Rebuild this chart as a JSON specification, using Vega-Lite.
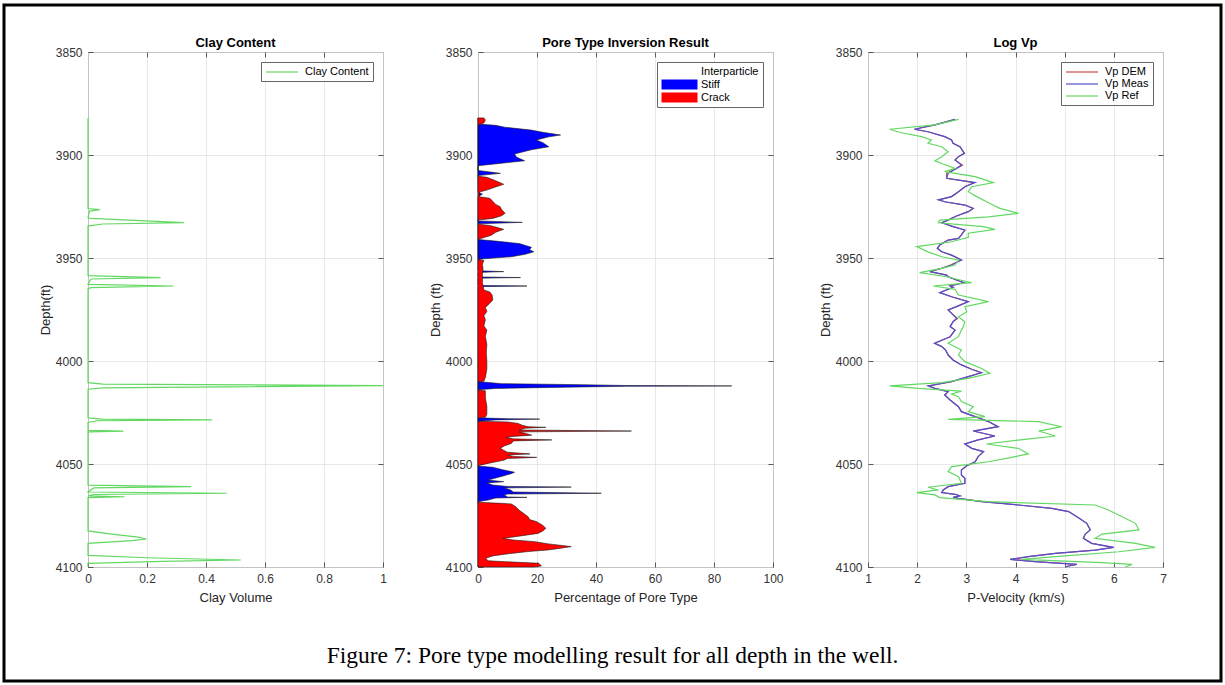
{
  "$schema": "https://vega.github.io/schema/vega-lite/v6.json",
  "background": "white",
  "padding": {"left": 2, "top": 3, "right": 2, "bottom": 2},
  "bounds": "flush",
  "spacing": 0,
  "datasets": {
    "clay": [
      {"d": 3882, "v": 0}, {"d": 3926.0, "v": 0}, {"d": 3926.5, "v": 0.04}, {"d": 3927.2, "v": 0.005}, {"d": 3930.5, "v": 0},
      {"d": 3930.8, "v": 0.01}, {"d": 3932.8, "v": 0.325}, {"d": 3933.5, "v": 0.05}, {"d": 3934.5, "v": 0},
      {"d": 3958.6, "v": 0}, {"d": 3959.5, "v": 0.246}, {"d": 3960.2, "v": 0.01}, {"d": 3962.8, "v": 0}, {"d": 3963.6, "v": 0.29}, {"d": 3964.4, "v": 0.01}, {"d": 3965.0, "v": 0},
      {"d": 4010.5, "v": 0}, {"d": 4011.2, "v": 0.05}, {"d": 4012.0, "v": 1.0}, {"d": 4013.0, "v": 0.05}, {"d": 4013.7, "v": 0},
      {"d": 4027.6, "v": 0}, {"d": 4028.2, "v": 0.05}, {"d": 4028.6, "v": 0.42}, {"d": 4029.0, "v": 0.03}, {"d": 4029.8, "v": 0},
      {"d": 4033.7, "v": 0}, {"d": 4034.0, "v": 0.12}, {"d": 4034.4, "v": 0},
      {"d": 4060.3, "v": 0}, {"d": 4061.0, "v": 0.35}, {"d": 4061.6, "v": 0.02}, {"d": 4063.6, "v": 0}, {"d": 4064.2, "v": 0.47}, {"d": 4064.8, "v": 0.02}, {"d": 4065.5, "v": 0}, {"d": 4065.9, "v": 0.124}, {"d": 4066.3, "v": 0},
      {"d": 4082.5, "v": 0}, {"d": 4084.0, "v": 0.08}, {"d": 4085.5, "v": 0.17}, {"d": 4086.4, "v": 0.198}, {"d": 4087.2, "v": 0.15}, {"d": 4088.5, "v": 0},
      {"d": 4094.4, "v": 0}, {"d": 4095.5, "v": 0.2}, {"d": 4096.6, "v": 0.518}, {"d": 4097.3, "v": 0.25}, {"d": 4098.2, "v": 0}, {"d": 4100, "v": 0}
    ],
    "pore": [
      {"s": "Stiff", "d": 3882, "v": 0}, {"s": "Stiff", "d": 3885.0, "v": 0}, {"s": "Stiff", "d": 3885.6, "v": 6}, {"s": "Stiff", "d": 3886.5, "v": 9},
      {"s": "Stiff", "d": 3887.9, "v": 18}, {"s": "Stiff", "d": 3889.0, "v": 22}, {"s": "Stiff", "d": 3890.3, "v": 28}, {"s": "Stiff", "d": 3891.2, "v": 24},
      {"s": "Stiff", "d": 3892.7, "v": 19.8}, {"s": "Stiff", "d": 3894.0, "v": 22}, {"s": "Stiff", "d": 3896.0, "v": 24}, {"s": "Stiff", "d": 3897.5, "v": 18},
      {"s": "Stiff", "d": 3899.5, "v": 12.4}, {"s": "Stiff", "d": 3901.0, "v": 13}, {"s": "Stiff", "d": 3902.8, "v": 15.8}, {"s": "Stiff", "d": 3904.0, "v": 8},
      {"s": "Stiff", "d": 3905.2, "v": 0}, {"s": "Stiff", "d": 3907.5, "v": 0}, {"s": "Stiff", "d": 3908.9, "v": 7.6}, {"s": "Stiff", "d": 3910.0, "v": 0},
      {"s": "Stiff", "d": 3918.0, "v": 0}, {"s": "Stiff", "d": 3919.0, "v": 1.5}, {"s": "Stiff", "d": 3920.2, "v": 0},
      {"s": "Stiff", "d": 3932.0, "v": 0}, {"s": "Stiff", "d": 3932.7, "v": 15}, {"s": "Stiff", "d": 3933.4, "v": 0},
      {"s": "Stiff", "d": 3941.0, "v": 0}, {"s": "Stiff", "d": 3941.8, "v": 6}, {"s": "Stiff", "d": 3943.0, "v": 14}, {"s": "Stiff", "d": 3944.8, "v": 18.1},
      {"s": "Stiff", "d": 3946.0, "v": 17.5}, {"s": "Stiff", "d": 3947.0, "v": 18.9}, {"s": "Stiff", "d": 3948.2, "v": 16}, {"s": "Stiff", "d": 3949.4, "v": 11.3},
      {"s": "Stiff", "d": 3950.4, "v": 2}, {"s": "Stiff", "d": 3950.8, "v": 0},
      {"s": "Stiff", "d": 3956.2, "v": 0}, {"s": "Stiff", "d": 3956.6, "v": 8.7}, {"s": "Stiff", "d": 3957.0, "v": 0},
      {"s": "Stiff", "d": 3959.2, "v": 0}, {"s": "Stiff", "d": 3959.5, "v": 14.4}, {"s": "Stiff", "d": 3959.8, "v": 0},
      {"s": "Stiff", "d": 3963.3, "v": 0}, {"s": "Stiff", "d": 3963.6, "v": 16.6}, {"s": "Stiff", "d": 3963.9, "v": 0},
      {"s": "Stiff", "d": 4010.0, "v": 0}, {"s": "Stiff", "d": 4011.0, "v": 8}, {"s": "Stiff", "d": 4011.5, "v": 35}, {"s": "Stiff", "d": 4011.9, "v": 50},
      {"s": "Stiff", "d": 4012.1, "v": 86}, {"s": "Stiff", "d": 4012.3, "v": 50}, {"s": "Stiff", "d": 4012.7, "v": 30}, {"s": "Stiff", "d": 4013.3, "v": 6}, {"s": "Stiff", "d": 4014.0, "v": 0},
      {"s": "Stiff", "d": 4027.6, "v": 0}, {"s": "Stiff", "d": 4028.0, "v": 10}, {"s": "Stiff", "d": 4028.2, "v": 20.9}, {"s": "Stiff", "d": 4028.6, "v": 6}, {"s": "Stiff", "d": 4029.3, "v": 0},
      {"s": "Stiff", "d": 4051.0, "v": 0}, {"s": "Stiff", "d": 4051.6, "v": 5}, {"s": "Stiff", "d": 4052.9, "v": 8.7}, {"s": "Stiff", "d": 4054.0, "v": 12.4},
      {"s": "Stiff", "d": 4054.8, "v": 11}, {"s": "Stiff", "d": 4056.2, "v": 7.6}, {"s": "Stiff", "d": 4057.8, "v": 3.4}, {"s": "Stiff", "d": 4058.6, "v": 8.7},
      {"s": "Stiff", "d": 4059.2, "v": 3}, {"s": "Stiff", "d": 4060.2, "v": 5}, {"s": "Stiff", "d": 4060.9, "v": 10}, {"s": "Stiff", "d": 4061.2, "v": 31.6},
      {"s": "Stiff", "d": 4061.6, "v": 9}, {"s": "Stiff", "d": 4062.6, "v": 11}, {"s": "Stiff", "d": 4063.6, "v": 12}, {"s": "Stiff", "d": 4064.2, "v": 41.8},
      {"s": "Stiff", "d": 4064.6, "v": 10}, {"s": "Stiff", "d": 4065.0, "v": 8.9}, {"s": "Stiff", "d": 4066.0, "v": 10}, {"s": "Stiff", "d": 4066.2, "v": 16.6},
      {"s": "Stiff", "d": 4066.5, "v": 6}, {"s": "Stiff", "d": 4067.5, "v": 3.4}, {"s": "Stiff", "d": 4068.3, "v": 0}, {"s": "Stiff", "d": 4100, "v": 0},

      {"s": "Crack", "d": 3882.0, "v": 2}, {"s": "Crack", "d": 3883.0, "v": 2.5}, {"s": "Crack", "d": 3884.5, "v": 2}, {"s": "Crack", "d": 3885.3, "v": 0},
      {"s": "Crack", "d": 3910.3, "v": 0}, {"s": "Crack", "d": 3910.8, "v": 3}, {"s": "Crack", "d": 3912.5, "v": 6}, {"s": "Crack", "d": 3914.2, "v": 8.7},
      {"s": "Crack", "d": 3915.5, "v": 6}, {"s": "Crack", "d": 3917.0, "v": 3}, {"s": "Crack", "d": 3918.0, "v": 0.5}, {"s": "Crack", "d": 3920.3, "v": 0.5},
      {"s": "Crack", "d": 3921.0, "v": 4}, {"s": "Crack", "d": 3922.5, "v": 5}, {"s": "Crack", "d": 3924.0, "v": 6}, {"s": "Crack", "d": 3925.1, "v": 7.5},
      {"s": "Crack", "d": 3926.5, "v": 8}, {"s": "Crack", "d": 3928.3, "v": 9.2}, {"s": "Crack", "d": 3929.5, "v": 8}, {"s": "Crack", "d": 3930.8, "v": 5},
      {"s": "Crack", "d": 3931.6, "v": 0}, {"s": "Crack", "d": 3933.6, "v": 0}, {"s": "Crack", "d": 3934.2, "v": 4}, {"s": "Crack", "d": 3935.0, "v": 6},
      {"s": "Crack", "d": 3936.1, "v": 8.7}, {"s": "Crack", "d": 3937.5, "v": 6}, {"s": "Crack", "d": 3939.0, "v": 4.5}, {"s": "Crack", "d": 3940.5, "v": 1},
      {"s": "Crack", "d": 3941.0, "v": 0}, {"s": "Crack", "d": 3950.8, "v": 0}, {"s": "Crack", "d": 3951.2, "v": 2}, {"s": "Crack", "d": 3953.0, "v": 1.5},
      {"s": "Crack", "d": 3955.0, "v": 1.7}, {"s": "Crack", "d": 3958.0, "v": 1.5}, {"s": "Crack", "d": 3962.0, "v": 1.5}, {"s": "Crack", "d": 3965.5, "v": 2},
      {"s": "Crack", "d": 3966.5, "v": 4}, {"s": "Crack", "d": 3968.0, "v": 4.8}, {"s": "Crack", "d": 3970.4, "v": 5}, {"s": "Crack", "d": 3972.0, "v": 4},
      {"s": "Crack", "d": 3974.0, "v": 2.5}, {"s": "Crack", "d": 3976.0, "v": 3}, {"s": "Crack", "d": 3978.0, "v": 2}, {"s": "Crack", "d": 3980.0, "v": 2.5},
      {"s": "Crack", "d": 3983.0, "v": 2}, {"s": "Crack", "d": 3985.0, "v": 3}, {"s": "Crack", "d": 3988.0, "v": 2.5}, {"s": "Crack", "d": 3992.0, "v": 3},
      {"s": "Crack", "d": 3996.0, "v": 2.8}, {"s": "Crack", "d": 4000.0, "v": 3}, {"s": "Crack", "d": 4004.0, "v": 3}, {"s": "Crack", "d": 4008.0, "v": 2.5},
      {"s": "Crack", "d": 4009.8, "v": 2}, {"s": "Crack", "d": 4010.0, "v": 0}, {"s": "Crack", "d": 4014.1, "v": 0}, {"s": "Crack", "d": 4014.5, "v": 2.5},
      {"s": "Crack", "d": 4018.0, "v": 2.5}, {"s": "Crack", "d": 4022.0, "v": 3}, {"s": "Crack", "d": 4026.0, "v": 3}, {"s": "Crack", "d": 4027.3, "v": 2.5},
      {"s": "Crack", "d": 4027.6, "v": 0}, {"s": "Crack", "d": 4029.3, "v": 0}, {"s": "Crack", "d": 4029.6, "v": 10}, {"s": "Crack", "d": 4030.3, "v": 13.6},
      {"s": "Crack", "d": 4031.2, "v": 15}, {"s": "Crack", "d": 4031.9, "v": 17}, {"s": "Crack", "d": 4032.2, "v": 23}, {"s": "Crack", "d": 4032.6, "v": 16},
      {"s": "Crack", "d": 4033.5, "v": 14}, {"s": "Crack", "d": 4034.0, "v": 52}, {"s": "Crack", "d": 4034.4, "v": 14}, {"s": "Crack", "d": 4035.1, "v": 16},
      {"s": "Crack", "d": 4036.0, "v": 18.2}, {"s": "Crack", "d": 4036.6, "v": 12}, {"s": "Crack", "d": 4037.1, "v": 9.5}, {"s": "Crack", "d": 4037.8, "v": 12},
      {"s": "Crack", "d": 4038.3, "v": 25}, {"s": "Crack", "d": 4038.8, "v": 12}, {"s": "Crack", "d": 4040.0, "v": 11.3}, {"s": "Crack", "d": 4041.2, "v": 9},
      {"s": "Crack", "d": 4042.4, "v": 7.6}, {"s": "Crack", "d": 4043.2, "v": 8.5}, {"s": "Crack", "d": 4044.3, "v": 10}, {"s": "Crack", "d": 4045.1, "v": 17.6},
      {"s": "Crack", "d": 4045.6, "v": 10}, {"s": "Crack", "d": 4046.3, "v": 12}, {"s": "Crack", "d": 4046.8, "v": 19.9}, {"s": "Crack", "d": 4047.3, "v": 10},
      {"s": "Crack", "d": 4048.1, "v": 8.9}, {"s": "Crack", "d": 4049.7, "v": 3.4}, {"s": "Crack", "d": 4050.8, "v": 0}, {"s": "Crack", "d": 4068.6, "v": 0},
      {"s": "Crack", "d": 4069.1, "v": 8}, {"s": "Crack", "d": 4069.4, "v": 11.3}, {"s": "Crack", "d": 4070.7, "v": 12.8}, {"s": "Crack", "d": 4072.5, "v": 14},
      {"s": "Crack", "d": 4074.0, "v": 15.5}, {"s": "Crack", "d": 4075.6, "v": 17}, {"s": "Crack", "d": 4077.0, "v": 17.5}, {"s": "Crack", "d": 4078.0, "v": 19.9},
      {"s": "Crack", "d": 4079.8, "v": 22}, {"s": "Crack", "d": 4081.2, "v": 23}, {"s": "Crack", "d": 4082.5, "v": 22}, {"s": "Crack", "d": 4083.7, "v": 20.3},
      {"s": "Crack", "d": 4084.8, "v": 15}, {"s": "Crack", "d": 4086.1, "v": 8.5}, {"s": "Crack", "d": 4086.9, "v": 12}, {"s": "Crack", "d": 4087.7, "v": 19.2},
      {"s": "Crack", "d": 4088.8, "v": 24}, {"s": "Crack", "d": 4090.1, "v": 31.6}, {"s": "Crack", "d": 4090.9, "v": 28}, {"s": "Crack", "d": 4091.7, "v": 23.8},
      {"s": "Crack", "d": 4092.5, "v": 17}, {"s": "Crack", "d": 4093.4, "v": 11.3}, {"s": "Crack", "d": 4094.6, "v": 5}, {"s": "Crack", "d": 4095.8, "v": 2.6},
      {"s": "Crack", "d": 4097.0, "v": 3.4}, {"s": "Crack", "d": 4097.6, "v": 12}, {"s": "Crack", "d": 4098.2, "v": 20.6}, {"s": "Crack", "d": 4099.5, "v": 21.5},
      {"s": "Crack", "d": 4100.0, "v": 19}
    ],
    "vp": [
      {"s": "Vp DEM", "d": 3882.7, "v": 2.77}, {"s": "Vp DEM", "d": 3885.4, "v": 2.36}, {"s": "Vp DEM", "d": 3887.5, "v": 1.95}, {"s": "Vp DEM", "d": 3888.7, "v": 2.22},
      {"s": "Vp DEM", "d": 3891.1, "v": 2.56}, {"s": "Vp DEM", "d": 3892.7, "v": 2.70}, {"s": "Vp DEM", "d": 3894.3, "v": 2.73}, {"s": "Vp DEM", "d": 3896.0, "v": 2.87},
      {"s": "Vp DEM", "d": 3899.2, "v": 2.96}, {"s": "Vp DEM", "d": 3900.8, "v": 2.84}, {"s": "Vp DEM", "d": 3902.4, "v": 2.77}, {"s": "Vp DEM", "d": 3904.9, "v": 2.92},
      {"s": "Vp DEM", "d": 3906.5, "v": 2.80}, {"s": "Vp DEM", "d": 3908.9, "v": 2.60}, {"s": "Vp DEM", "d": 3911.3, "v": 2.60}, {"s": "Vp DEM", "d": 3913.4, "v": 3.16},
      {"s": "Vp DEM", "d": 3915.4, "v": 2.97}, {"s": "Vp DEM", "d": 3917.8, "v": 2.84}, {"s": "Vp DEM", "d": 3920.2, "v": 2.70}, {"s": "Vp DEM", "d": 3921.8, "v": 2.44},
      {"s": "Vp DEM", "d": 3922.7, "v": 2.56}, {"s": "Vp DEM", "d": 3924.3, "v": 2.97}, {"s": "Vp DEM", "d": 3925.9, "v": 3.14}, {"s": "Vp DEM", "d": 3927.5, "v": 3.04},
      {"s": "Vp DEM", "d": 3929.6, "v": 2.80}, {"s": "Vp DEM", "d": 3931.6, "v": 2.63}, {"s": "Vp DEM", "d": 3932.9, "v": 2.50}, {"s": "Vp DEM", "d": 3934.8, "v": 2.73},
      {"s": "Vp DEM", "d": 3936.4, "v": 2.97}, {"s": "Vp DEM", "d": 3938.8, "v": 2.90}, {"s": "Vp DEM", "d": 3940.5, "v": 2.84}, {"s": "Vp DEM", "d": 3941.3, "v": 2.63},
      {"s": "Vp DEM", "d": 3943.7, "v": 2.46}, {"s": "Vp DEM", "d": 3945.3, "v": 2.41}, {"s": "Vp DEM", "d": 3947.0, "v": 2.50}, {"s": "Vp DEM", "d": 3948.6, "v": 2.70},
      {"s": "Vp DEM", "d": 3951.0, "v": 2.90}, {"s": "Vp DEM", "d": 3953.4, "v": 2.68}, {"s": "Vp DEM", "d": 3955.0, "v": 2.50}, {"s": "Vp DEM", "d": 3956.6, "v": 2.26},
      {"s": "Vp DEM", "d": 3958.3, "v": 2.60}, {"s": "Vp DEM", "d": 3959.1, "v": 2.63}, {"s": "Vp DEM", "d": 3960.7, "v": 2.80}, {"s": "Vp DEM", "d": 3962.0, "v": 2.94},
      {"s": "Vp DEM", "d": 3963.6, "v": 2.67}, {"s": "Vp DEM", "d": 3964.2, "v": 2.73}, {"s": "Vp DEM", "d": 3966.8, "v": 2.46}, {"s": "Vp DEM", "d": 3968.8, "v": 2.70},
      {"s": "Vp DEM", "d": 3971.2, "v": 3.04}, {"s": "Vp DEM", "d": 3973.6, "v": 2.80}, {"s": "Vp DEM", "d": 3975.2, "v": 2.63}, {"s": "Vp DEM", "d": 3976.9, "v": 2.70},
      {"s": "Vp DEM", "d": 3979.3, "v": 2.82}, {"s": "Vp DEM", "d": 3980.9, "v": 2.73}, {"s": "Vp DEM", "d": 3983.3, "v": 2.67}, {"s": "Vp DEM", "d": 3985.0, "v": 2.77},
      {"s": "Vp DEM", "d": 3988.2, "v": 2.67}, {"s": "Vp DEM", "d": 3991.4, "v": 2.36}, {"s": "Vp DEM", "d": 3993.0, "v": 2.50}, {"s": "Vp DEM", "d": 3994.7, "v": 2.58},
      {"s": "Vp DEM", "d": 3997.1, "v": 2.63}, {"s": "Vp DEM", "d": 3999.5, "v": 2.73}, {"s": "Vp DEM", "d": 4001.9, "v": 2.90}, {"s": "Vp DEM", "d": 4004.0, "v": 3.11},
      {"s": "Vp DEM", "d": 4005.7, "v": 3.30}, {"s": "Vp DEM", "d": 4007.6, "v": 3.04}, {"s": "Vp DEM", "d": 4010.0, "v": 2.70}, {"s": "Vp DEM", "d": 4012.1, "v": 2.24},
      {"s": "Vp DEM", "d": 4013.3, "v": 2.36}, {"s": "Vp DEM", "d": 4014.9, "v": 2.63}, {"s": "Vp DEM", "d": 4016.5, "v": 2.56}, {"s": "Vp DEM", "d": 4018.9, "v": 2.67},
      {"s": "Vp DEM", "d": 4022.2, "v": 2.84}, {"s": "Vp DEM", "d": 4024.6, "v": 2.90}, {"s": "Vp DEM", "d": 4027.0, "v": 3.18}, {"s": "Vp DEM", "d": 4029.4, "v": 3.45},
      {"s": "Vp DEM", "d": 4031.9, "v": 3.64}, {"s": "Vp DEM", "d": 4034.0, "v": 3.14}, {"s": "Vp DEM", "d": 4036.4, "v": 3.58}, {"s": "Vp DEM", "d": 4038.3, "v": 3.24},
      {"s": "Vp DEM", "d": 4040.3, "v": 2.97}, {"s": "Vp DEM", "d": 4042.4, "v": 3.11}, {"s": "Vp DEM", "d": 4044.0, "v": 3.35}, {"s": "Vp DEM", "d": 4046.4, "v": 3.24},
      {"s": "Vp DEM", "d": 4048.9, "v": 3.18}, {"s": "Vp DEM", "d": 4051.0, "v": 3.00}, {"s": "Vp DEM", "d": 4052.9, "v": 2.90}, {"s": "Vp DEM", "d": 4055.3, "v": 2.90},
      {"s": "Vp DEM", "d": 4056.9, "v": 2.97}, {"s": "Vp DEM", "d": 4059.4, "v": 2.97}, {"s": "Vp DEM", "d": 4061.0, "v": 2.63}, {"s": "Vp DEM", "d": 4062.6, "v": 2.53},
      {"s": "Vp DEM", "d": 4063.9, "v": 2.50}, {"s": "Vp DEM", "d": 4064.7, "v": 2.77}, {"s": "Vp DEM", "d": 4065.5, "v": 2.87}, {"s": "Vp DEM", "d": 4066.2, "v": 2.73},
      {"s": "Vp DEM", "d": 4066.7, "v": 2.84}, {"s": "Vp DEM", "d": 4068.3, "v": 3.31}, {"s": "Vp DEM", "d": 4069.9, "v": 4.06}, {"s": "Vp DEM", "d": 4071.5, "v": 4.74},
      {"s": "Vp DEM", "d": 4073.1, "v": 5.08}, {"s": "Vp DEM", "d": 4075.6, "v": 5.25}, {"s": "Vp DEM", "d": 4078.8, "v": 5.45}, {"s": "Vp DEM", "d": 4082.0, "v": 5.52},
      {"s": "Vp DEM", "d": 4084.0, "v": 5.42}, {"s": "Vp DEM", "d": 4086.1, "v": 5.38}, {"s": "Vp DEM", "d": 4088.5, "v": 5.55}, {"s": "Vp DEM", "d": 4090.5, "v": 5.98},
      {"s": "Vp DEM", "d": 4091.8, "v": 5.62}, {"s": "Vp DEM", "d": 4093.4, "v": 4.81}, {"s": "Vp DEM", "d": 4095.0, "v": 4.26}, {"s": "Vp DEM", "d": 4096.3, "v": 3.90},
      {"s": "Vp DEM", "d": 4097.4, "v": 4.40}, {"s": "Vp DEM", "d": 4098.7, "v": 5.24}, {"s": "Vp DEM", "d": 4099.5, "v": 5.08}, {"s": "Vp DEM", "d": 4100.0, "v": 5.01},

      {"s": "Vp Meas", "d": 3882.7, "v": 2.77}, {"s": "Vp Meas", "d": 3885.4, "v": 2.36}, {"s": "Vp Meas", "d": 3887.5, "v": 1.94}, {"s": "Vp Meas", "d": 3888.7, "v": 2.22},
      {"s": "Vp Meas", "d": 3891.1, "v": 2.56}, {"s": "Vp Meas", "d": 3892.7, "v": 2.70}, {"s": "Vp Meas", "d": 3894.3, "v": 2.73}, {"s": "Vp Meas", "d": 3896.0, "v": 2.87},
      {"s": "Vp Meas", "d": 3899.2, "v": 2.96}, {"s": "Vp Meas", "d": 3900.8, "v": 2.84}, {"s": "Vp Meas", "d": 3902.4, "v": 2.77}, {"s": "Vp Meas", "d": 3904.9, "v": 2.90},
      {"s": "Vp Meas", "d": 3906.5, "v": 2.80}, {"s": "Vp Meas", "d": 3908.9, "v": 2.63}, {"s": "Vp Meas", "d": 3911.3, "v": 2.60}, {"s": "Vp Meas", "d": 3913.4, "v": 3.18},
      {"s": "Vp Meas", "d": 3915.4, "v": 2.97}, {"s": "Vp Meas", "d": 3917.8, "v": 2.84}, {"s": "Vp Meas", "d": 3920.2, "v": 2.70}, {"s": "Vp Meas", "d": 3921.8, "v": 2.43},
      {"s": "Vp Meas", "d": 3922.7, "v": 2.56}, {"s": "Vp Meas", "d": 3924.3, "v": 2.97}, {"s": "Vp Meas", "d": 3925.9, "v": 3.14}, {"s": "Vp Meas", "d": 3927.5, "v": 3.04},
      {"s": "Vp Meas", "d": 3929.6, "v": 2.80}, {"s": "Vp Meas", "d": 3931.6, "v": 2.63}, {"s": "Vp Meas", "d": 3932.9, "v": 2.50}, {"s": "Vp Meas", "d": 3934.8, "v": 2.73},
      {"s": "Vp Meas", "d": 3936.4, "v": 2.97}, {"s": "Vp Meas", "d": 3938.8, "v": 2.90}, {"s": "Vp Meas", "d": 3940.5, "v": 2.84}, {"s": "Vp Meas", "d": 3941.3, "v": 2.63},
      {"s": "Vp Meas", "d": 3943.7, "v": 2.46}, {"s": "Vp Meas", "d": 3945.3, "v": 2.41}, {"s": "Vp Meas", "d": 3947.0, "v": 2.50}, {"s": "Vp Meas", "d": 3948.6, "v": 2.70},
      {"s": "Vp Meas", "d": 3951.0, "v": 2.90}, {"s": "Vp Meas", "d": 3953.4, "v": 2.70}, {"s": "Vp Meas", "d": 3955.0, "v": 2.50}, {"s": "Vp Meas", "d": 3956.6, "v": 2.26},
      {"s": "Vp Meas", "d": 3958.3, "v": 2.60}, {"s": "Vp Meas", "d": 3959.1, "v": 2.63}, {"s": "Vp Meas", "d": 3960.7, "v": 2.80}, {"s": "Vp Meas", "d": 3962.0, "v": 2.96},
      {"s": "Vp Meas", "d": 3963.6, "v": 2.67}, {"s": "Vp Meas", "d": 3964.2, "v": 2.73}, {"s": "Vp Meas", "d": 3966.8, "v": 2.46}, {"s": "Vp Meas", "d": 3968.8, "v": 2.70},
      {"s": "Vp Meas", "d": 3971.2, "v": 3.04}, {"s": "Vp Meas", "d": 3973.6, "v": 2.80}, {"s": "Vp Meas", "d": 3975.2, "v": 2.63}, {"s": "Vp Meas", "d": 3976.9, "v": 2.70},
      {"s": "Vp Meas", "d": 3979.3, "v": 2.80}, {"s": "Vp Meas", "d": 3980.9, "v": 2.73}, {"s": "Vp Meas", "d": 3983.3, "v": 2.67}, {"s": "Vp Meas", "d": 3985.0, "v": 2.77},
      {"s": "Vp Meas", "d": 3988.2, "v": 2.67}, {"s": "Vp Meas", "d": 3991.4, "v": 2.35}, {"s": "Vp Meas", "d": 3993.0, "v": 2.50}, {"s": "Vp Meas", "d": 3994.7, "v": 2.58},
      {"s": "Vp Meas", "d": 3997.1, "v": 2.63}, {"s": "Vp Meas", "d": 3999.5, "v": 2.73}, {"s": "Vp Meas", "d": 4001.9, "v": 2.90}, {"s": "Vp Meas", "d": 4004.0, "v": 3.11},
      {"s": "Vp Meas", "d": 4005.7, "v": 3.31}, {"s": "Vp Meas", "d": 4007.6, "v": 3.04}, {"s": "Vp Meas", "d": 4010.0, "v": 2.70}, {"s": "Vp Meas", "d": 4012.1, "v": 2.22},
      {"s": "Vp Meas", "d": 4013.3, "v": 2.36}, {"s": "Vp Meas", "d": 4014.9, "v": 2.63}, {"s": "Vp Meas", "d": 4016.5, "v": 2.56}, {"s": "Vp Meas", "d": 4018.9, "v": 2.67},
      {"s": "Vp Meas", "d": 4022.2, "v": 2.84}, {"s": "Vp Meas", "d": 4024.6, "v": 2.90}, {"s": "Vp Meas", "d": 4027.0, "v": 3.18}, {"s": "Vp Meas", "d": 4029.4, "v": 3.45},
      {"s": "Vp Meas", "d": 4031.9, "v": 3.65}, {"s": "Vp Meas", "d": 4034.0, "v": 3.14}, {"s": "Vp Meas", "d": 4036.4, "v": 3.58}, {"s": "Vp Meas", "d": 4038.3, "v": 3.24},
      {"s": "Vp Meas", "d": 4040.3, "v": 2.97}, {"s": "Vp Meas", "d": 4042.4, "v": 3.11}, {"s": "Vp Meas", "d": 4044.0, "v": 3.35}, {"s": "Vp Meas", "d": 4046.4, "v": 3.24},
      {"s": "Vp Meas", "d": 4048.9, "v": 3.18}, {"s": "Vp Meas", "d": 4051.0, "v": 3.00}, {"s": "Vp Meas", "d": 4052.9, "v": 2.90}, {"s": "Vp Meas", "d": 4055.3, "v": 2.90},
      {"s": "Vp Meas", "d": 4056.9, "v": 2.97}, {"s": "Vp Meas", "d": 4059.4, "v": 2.97}, {"s": "Vp Meas", "d": 4061.0, "v": 2.63}, {"s": "Vp Meas", "d": 4062.6, "v": 2.53},
      {"s": "Vp Meas", "d": 4063.9, "v": 2.50}, {"s": "Vp Meas", "d": 4064.7, "v": 2.77}, {"s": "Vp Meas", "d": 4065.5, "v": 2.87}, {"s": "Vp Meas", "d": 4066.2, "v": 2.73},
      {"s": "Vp Meas", "d": 4066.7, "v": 2.84}, {"s": "Vp Meas", "d": 4068.3, "v": 3.31}, {"s": "Vp Meas", "d": 4069.9, "v": 4.06}, {"s": "Vp Meas", "d": 4071.5, "v": 4.74},
      {"s": "Vp Meas", "d": 4073.1, "v": 5.08}, {"s": "Vp Meas", "d": 4075.6, "v": 5.25}, {"s": "Vp Meas", "d": 4078.8, "v": 5.45}, {"s": "Vp Meas", "d": 4082.0, "v": 5.52},
      {"s": "Vp Meas", "d": 4084.0, "v": 5.42}, {"s": "Vp Meas", "d": 4086.1, "v": 5.38}, {"s": "Vp Meas", "d": 4088.5, "v": 5.55}, {"s": "Vp Meas", "d": 4090.5, "v": 6.00},
      {"s": "Vp Meas", "d": 4091.8, "v": 5.62}, {"s": "Vp Meas", "d": 4093.4, "v": 4.81}, {"s": "Vp Meas", "d": 4095.0, "v": 4.26}, {"s": "Vp Meas", "d": 4096.3, "v": 3.89},
      {"s": "Vp Meas", "d": 4097.4, "v": 4.40}, {"s": "Vp Meas", "d": 4098.7, "v": 5.25}, {"s": "Vp Meas", "d": 4099.5, "v": 5.08}, {"s": "Vp Meas", "d": 4100.0, "v": 5.01},

      {"s": "Vp Ref", "d": 3882.7, "v": 2.84}, {"s": "Vp Ref", "d": 3885.4, "v": 2.36}, {"s": "Vp Ref", "d": 3887.5, "v": 1.44}, {"s": "Vp Ref", "d": 3889.2, "v": 1.68},
      {"s": "Vp Ref", "d": 3891.1, "v": 2.09}, {"s": "Vp Ref", "d": 3892.7, "v": 2.29}, {"s": "Vp Ref", "d": 3894.3, "v": 2.22}, {"s": "Vp Ref", "d": 3896.0, "v": 2.50},
      {"s": "Vp Ref", "d": 3898.4, "v": 2.63}, {"s": "Vp Ref", "d": 3900.8, "v": 2.50}, {"s": "Vp Ref", "d": 3902.8, "v": 2.36}, {"s": "Vp Ref", "d": 3904.4, "v": 2.53},
      {"s": "Vp Ref", "d": 3906.5, "v": 2.77}, {"s": "Vp Ref", "d": 3908.1, "v": 2.56}, {"s": "Vp Ref", "d": 3910.5, "v": 3.18}, {"s": "Vp Ref", "d": 3913.4, "v": 3.55},
      {"s": "Vp Ref", "d": 3915.4, "v": 3.11}, {"s": "Vp Ref", "d": 3917.8, "v": 3.04}, {"s": "Vp Ref", "d": 3920.2, "v": 3.21}, {"s": "Vp Ref", "d": 3923.5, "v": 3.48},
      {"s": "Vp Ref", "d": 3925.9, "v": 3.68}, {"s": "Vp Ref", "d": 3928.3, "v": 4.06}, {"s": "Vp Ref", "d": 3930.0, "v": 3.45}, {"s": "Vp Ref", "d": 3931.6, "v": 2.46},
      {"s": "Vp Ref", "d": 3932.9, "v": 2.43}, {"s": "Vp Ref", "d": 3934.8, "v": 3.35}, {"s": "Vp Ref", "d": 3936.1, "v": 3.58}, {"s": "Vp Ref", "d": 3938.0, "v": 3.04},
      {"s": "Vp Ref", "d": 3940.0, "v": 3.04}, {"s": "Vp Ref", "d": 3942.1, "v": 2.70}, {"s": "Vp Ref", "d": 3944.5, "v": 1.99}, {"s": "Vp Ref", "d": 3947.0, "v": 2.22},
      {"s": "Vp Ref", "d": 3949.4, "v": 2.50}, {"s": "Vp Ref", "d": 3951.0, "v": 2.84}, {"s": "Vp Ref", "d": 3953.4, "v": 2.77}, {"s": "Vp Ref", "d": 3955.0, "v": 2.50},
      {"s": "Vp Ref", "d": 3957.1, "v": 2.05}, {"s": "Vp Ref", "d": 3959.1, "v": 2.60}, {"s": "Vp Ref", "d": 3962.0, "v": 3.11}, {"s": "Vp Ref", "d": 3963.6, "v": 2.33},
      {"s": "Vp Ref", "d": 3965.2, "v": 2.77}, {"s": "Vp Ref", "d": 3968.0, "v": 2.84}, {"s": "Vp Ref", "d": 3971.2, "v": 3.45}, {"s": "Vp Ref", "d": 3973.6, "v": 2.97},
      {"s": "Vp Ref", "d": 3976.1, "v": 3.01}, {"s": "Vp Ref", "d": 3978.5, "v": 2.84}, {"s": "Vp Ref", "d": 3980.9, "v": 2.97}, {"s": "Vp Ref", "d": 3983.3, "v": 2.94},
      {"s": "Vp Ref", "d": 3985.0, "v": 2.90}, {"s": "Vp Ref", "d": 3988.2, "v": 2.84}, {"s": "Vp Ref", "d": 3991.4, "v": 2.63}, {"s": "Vp Ref", "d": 3994.7, "v": 2.90},
      {"s": "Vp Ref", "d": 3997.1, "v": 2.84}, {"s": "Vp Ref", "d": 4000.3, "v": 2.97}, {"s": "Vp Ref", "d": 4003.6, "v": 3.31}, {"s": "Vp Ref", "d": 4006.0, "v": 3.48},
      {"s": "Vp Ref", "d": 4008.4, "v": 3.04}, {"s": "Vp Ref", "d": 4010.5, "v": 2.50}, {"s": "Vp Ref", "d": 4012.1, "v": 1.44}, {"s": "Vp Ref", "d": 4013.3, "v": 2.02},
      {"s": "Vp Ref", "d": 4014.6, "v": 2.90}, {"s": "Vp Ref", "d": 4016.0, "v": 2.70}, {"s": "Vp Ref", "d": 4017.3, "v": 2.84}, {"s": "Vp Ref", "d": 4019.7, "v": 2.90},
      {"s": "Vp Ref", "d": 4022.2, "v": 3.14}, {"s": "Vp Ref", "d": 4024.6, "v": 3.04}, {"s": "Vp Ref", "d": 4027.0, "v": 3.38}, {"s": "Vp Ref", "d": 4028.3, "v": 2.63},
      {"s": "Vp Ref", "d": 4029.4, "v": 4.47}, {"s": "Vp Ref", "d": 4031.9, "v": 4.94}, {"s": "Vp Ref", "d": 4034.0, "v": 4.47}, {"s": "Vp Ref", "d": 4036.4, "v": 4.81},
      {"s": "Vp Ref", "d": 4038.0, "v": 4.19}, {"s": "Vp Ref", "d": 4040.3, "v": 3.41}, {"s": "Vp Ref", "d": 4042.4, "v": 4.06}, {"s": "Vp Ref", "d": 4045.1, "v": 4.26},
      {"s": "Vp Ref", "d": 4046.8, "v": 3.92}, {"s": "Vp Ref", "d": 4048.9, "v": 3.45}, {"s": "Vp Ref", "d": 4051.3, "v": 2.70}, {"s": "Vp Ref", "d": 4053.7, "v": 2.63},
      {"s": "Vp Ref", "d": 4056.2, "v": 2.84}, {"s": "Vp Ref", "d": 4059.4, "v": 2.90}, {"s": "Vp Ref", "d": 4061.3, "v": 2.22}, {"s": "Vp Ref", "d": 4062.6, "v": 2.43},
      {"s": "Vp Ref", "d": 4063.9, "v": 1.99}, {"s": "Vp Ref", "d": 4065.0, "v": 2.36}, {"s": "Vp Ref", "d": 4066.3, "v": 2.46}, {"s": "Vp Ref", "d": 4068.3, "v": 3.45},
      {"s": "Vp Ref", "d": 4069.9, "v": 5.62}, {"s": "Vp Ref", "d": 4072.3, "v": 5.89}, {"s": "Vp Ref", "d": 4075.6, "v": 6.17}, {"s": "Vp Ref", "d": 4078.8, "v": 6.44},
      {"s": "Vp Ref", "d": 4082.0, "v": 6.51}, {"s": "Vp Ref", "d": 4084.0, "v": 5.76}, {"s": "Vp Ref", "d": 4086.1, "v": 5.62}, {"s": "Vp Ref", "d": 4088.5, "v": 6.44},
      {"s": "Vp Ref", "d": 4090.5, "v": 6.84}, {"s": "Vp Ref", "d": 4092.6, "v": 6.10}, {"s": "Vp Ref", "d": 4094.7, "v": 4.94}, {"s": "Vp Ref", "d": 4096.3, "v": 4.13},
      {"s": "Vp Ref", "d": 4097.9, "v": 5.76}, {"s": "Vp Ref", "d": 4098.7, "v": 6.37}, {"s": "Vp Ref", "d": 4100.0, "v": 6.23}
    ]
  },
  "vconcat": [
    {
      "bounds": "flush",
      "spacing": 0,
      "vconcat": [
        {
          "width": 1, "height": 47,
          "view": {"stroke": null},
          "data": {"values": []}, "mark": "rule", "encoding": {}
        },
        {
          "bounds": "flush",
          "spacing": 0,
          "hconcat": [
            {
              "width": 84, "height": 1,
              "view": {"stroke": null},
              "data": {"values": []}, "mark": "rule", "encoding": {}
            },
            {
              "bounds": "flush",
              "spacing": 95,
              "resolve": {"scale": {"color": "independent"}},
              "hconcat": [
                {
                  "width": 295, "height": 515,
                  "title": {"text": "Clay Content"},
                  "data": {"name": "clay"},
                  "layer": [
                    {
                      "mark": {"type": "line", "strokeWidth": 1.2},
                      "encoding": {
                        "x": {"field": "v", "type": "quantitative", "scale": {"domain": [0, 1], "nice": false, "zero": false},
                              "axis": {"title": "Clay Volume", "values": [0, 0.2, 0.4, 0.6, 0.8, 1], "format": "~g", "grid": true}},
                        "y": {"field": "d", "type": "quantitative", "scale": {"domain": [3850, 4100], "reverse": true, "nice": false, "zero": false},
                              "axis": {"title": "Depth(ft)", "values": [3850, 3900, 3950, 4000, 4050, 4100], "format": "d", "grid": true}},
                        "order": {"field": "d", "type": "quantitative"},
                        "color": {"datum": "Clay Content", "type": "nominal", "scale": {"range": ["#62d862"]},
                                  "legend": {"title": null, "orient": "top-right", "offset": 10, "symbolType": "M-1,0H5.4", "symbolSize": 100, "symbolStrokeWidth": 1.2, "labelOffset": 28}}
                      }
                    },
                    {
                      "mark": {"type": "point", "opacity": 0},
                      "encoding": {
                        "x": {"field": "v", "type": "quantitative", "axis": {"orient": "top", "labels": false, "grid": false, "title": null, "values": [0.2, 0.4, 0.6, 0.8]}},
                        "y": {"field": "d", "type": "quantitative", "axis": {"orient": "right", "labels": false, "grid": false, "title": null, "values": [3900, 3950, 4000, 4050]}}
                      }
                    }
                  ],
                  "resolve": {"axis": {"x": "independent", "y": "independent"}}
                },
                {
                  "width": 295, "height": 515,
                  "title": {"text": "Pore Type Inversion Result"},
                  "data": {"name": "pore"},
                  "layer": [
                    {
                      "mark": {"type": "area", "orient": "horizontal", "stroke": "#1a1a1a", "strokeWidth": 0.6, "opacity": 1},
                      "encoding": {
                        "x": {"field": "v", "type": "quantitative", "stack": null, "scale": {"domain": [0, 100], "nice": false},
                              "axis": {"title": "Percentage of Pore Type", "values": [0, 20, 40, 60, 80, 100], "grid": true}},
                        "y": {"field": "d", "type": "quantitative", "scale": {"domain": [3850, 4100], "reverse": true, "nice": false, "zero": false},
                              "axis": {"title": "Depth (ft)", "values": [3850, 3900, 3950, 4000, 4050, 4100], "format": "d", "grid": true}},
                        "color": {"field": "s", "type": "nominal",
                                  "scale": {"domain": ["Interparticle", "Stiff", "Crack"], "range": ["#ffffff", "#0000ff", "#ff0000"]},
                                  "legend": {"title": null, "orient": "top-right", "offset": 10, "symbolType": "M-1,-1H6.2V1H-1Z", "symbolSize": 100, "symbolStrokeWidth": 0, "symbolOpacity": 1, "labelOffset": 29}}
                      }
                    },
                    {
                      "mark": {"type": "point", "opacity": 0},
                      "encoding": {
                        "x": {"field": "v", "type": "quantitative", "axis": {"orient": "top", "labels": false, "grid": false, "title": null, "values": [20, 40, 60, 80]}},
                        "y": {"field": "d", "type": "quantitative", "axis": {"orient": "right", "labels": false, "grid": false, "title": null, "values": [3900, 3950, 4000, 4050]}}
                      }
                    }
                  ],
                  "resolve": {"axis": {"x": "independent", "y": "independent"}}
                },
                {
                  "width": 295, "height": 515,
                  "title": {"text": "Log Vp"},
                  "data": {"name": "vp"},
                  "layer": [
                    {
                      "mark": {"type": "line", "strokeWidth": 1.2},
                      "encoding": {
                        "x": {"field": "v", "type": "quantitative", "scale": {"domain": [1, 7], "nice": false, "zero": false},
                              "axis": {"title": "P-Velocity (km/s)", "values": [1, 2, 3, 4, 5, 6, 7], "grid": true}},
                        "y": {"field": "d", "type": "quantitative", "scale": {"domain": [3850, 4100], "reverse": true, "nice": false, "zero": false},
                              "axis": {"title": "Depth (ft)", "values": [3850, 3900, 3950, 4000, 4050, 4100], "format": "d", "grid": true}},
                        "order": {"field": "d", "type": "quantitative"},
                        "color": {"field": "s", "type": "nominal",
                                  "scale": {"domain": ["Vp DEM", "Vp Meas", "Vp Ref"], "range": ["#c84848", "#5050d0", "#62d862"]},
                                  "legend": {"title": null, "orient": "top-right", "offset": 10, "symbolType": "M-1,0H5.4", "symbolSize": 100, "symbolStrokeWidth": 1.2, "labelOffset": 28}}
                      }
                    },
                    {
                      "mark": {"type": "point", "opacity": 0},
                      "encoding": {
                        "x": {"field": "v", "type": "quantitative", "axis": {"orient": "top", "labels": false, "grid": false, "title": null, "values": [2, 3, 4, 5, 6]}},
                        "y": {"field": "d", "type": "quantitative", "axis": {"orient": "right", "labels": false, "grid": false, "title": null, "values": [3900, 3950, 4000, 4050]}}
                      }
                    }
                  ],
                  "resolve": {"axis": {"x": "independent", "y": "independent"}}
                }
              ]
            }
          ]
        }
      ]
    },
    {
      "width": 1217, "height": 676,
      "view": {"stroke": "#000000", "strokeWidth": 3},
      "title": {
        "text": "Figure 7: Pore type modelling result for all depth in the well.",
        "orient": "bottom", "frame": "group", "anchor": "middle", "offset": -18,
        "baseline": "alphabetic", "font": "Liberation Serif", "fontSize": 23.5,
        "fontWeight": "normal", "color": "#000000"
      },
      "data": {"values": []}, "mark": "rule", "encoding": {}
    }
  ],
  "config": {
    "font": "Liberation Sans",
    "view": {"stroke": "#4d4d4d", "strokeWidth": 1},
    "title": {"font": "Liberation Sans", "fontSize": 13, "fontWeight": "bold", "color": "#000000", "offset": -4},
    "axis": {
      "labelFont": "Liberation Sans", "labelFontSize": 12, "labelColor": "#333333",
      "titleFont": "Liberation Sans", "titleFontSize": 13, "titleFontWeight": "normal", "titleColor": "#262626",
      "gridColor": "#e2e2e2", "gridWidth": 0.8, "domain": false,
      "tickColor": "#333333", "tickSize": -5, "tickWidth": 0.8, "labelPadding": 11,
      "labelFlush": false, "labelOverlap": false, "titlePadding": 3
    },
    "axisX": {"titlePadding": 7},
    "legend": {
      "labelFont": "Liberation Sans", "labelFontSize": 11, "labelColor": "#000000",
      "strokeColor": "#666666", "fillColor": "#ffffff", "padding": 4, "rowPadding": 1, "cornerRadius": 0
    }
  }
}
